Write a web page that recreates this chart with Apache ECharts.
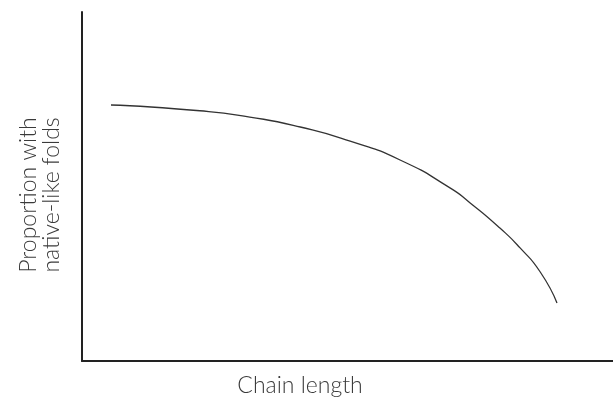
<!DOCTYPE html>
<html>
<head>
<meta charset="utf-8">
<script src="https://cdn.jsdelivr.net/npm/echarts@6/dist/echarts.min.js"></script>
<style>html,body{margin:0;padding:0;background:#fff}#c{width:613px;height:401px}</style>
</head>
<body>
<div id="c"></div>
<script>
const chainLength = [5.46, 22.2, 31.6, 41.1, 50.5, 59.9, 69.3, 73.1, 78.7, 82.5, 86.3, 89.45];
const proportion  = [73.35, 71.7, 69.9, 67.05, 63.0, 57.6, 49.6, 45.3, 38.1, 32.4, 25.5, 16.6];
const xTitle = 'Chain length';
const yTitle = ['Proportion with', 'native-like folds'];

const chart = echarts.init(document.getElementById('c'));
chart.setOption({
  animation: false,
  grid: {left: 82, right: 0, top: 12, bottom: 40},
  xAxis: {type: 'value', min: 0, max: 100,
    axisLine: {show: true, onZero: false, lineStyle: {color: '#222', width: 2}},
    axisTick: {show: false}, axisLabel: {show: false}, splitLine: {show: false}},
  yAxis: {type: 'value', min: 0, max: 100,
    axisLine: {show: true, onZero: false, lineStyle: {color: '#222', width: 2}},
    axisTick: {show: false}, axisLabel: {show: false}, splitLine: {show: false}},
  series: [{type: 'line', smooth: 0.6, showSymbol: false,
    data: chainLength.map((x, i) => [x, proportion[i]]),
    lineStyle: {color: '#333', width: 1.3}}],
  graphic: [
    {type: 'text', x: 300, y: 386, style: {text: xTitle, fill: '#3a3a3a', font: '300 23px Lato, sans-serif', align: 'center', verticalAlign: 'middle'}},
    {type: 'text', x: 40, y: 195, rotation: Math.PI / 2, style: {text: yTitle.join('\n'), fill: '#3a3a3a', font: '300 23px Lato, sans-serif', align: 'center', verticalAlign: 'middle', lineHeight: 23}}
  ]
});
</script>
</body>
</html>
